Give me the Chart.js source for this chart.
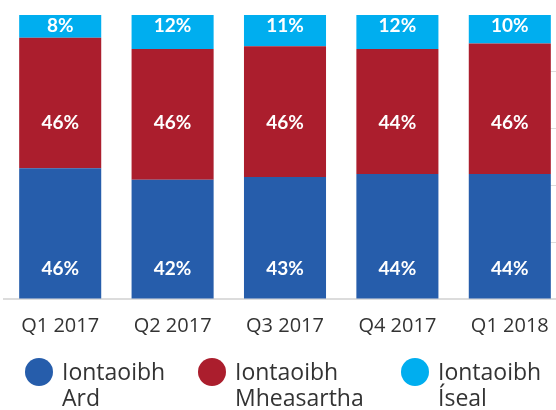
<!DOCTYPE html>
<html>
<head>
<meta charset="utf-8">
<script src="https://cdn.jsdelivr.net/npm/chart.js@4/dist/chart.umd.min.js"></script>
<style>
  body { margin: 0; background: #fff; overflow: hidden; }
  #wrap { position: relative; width: 556px; height: 410px; overflow: hidden; }
  #trust_chart { position: absolute; left: 0; top: 0; }
  #legend { position: absolute; left: 0; top: 358px; width: 556px; font-family: "Open Sans"; font-size: 23px; line-height: 26px; color: #333; }
  .item { position: absolute; top: 0; }
  .dot { position: absolute; top: 0; width: 28px; height: 28px; border-radius: 50%; }
  .txt { position: absolute; white-space: nowrap; }
</style>
</head>
<body>
<div id="wrap">
  <canvas id="trust_chart" width="566" height="410"></canvas>
  <div id="legend"></div>
</div>
<script>
const quarters = ["Q1 2017", "Q2 2017", "Q3 2017", "Q4 2017", "Q1 2018"];
const ard = [46, 42, 43, 44, 44];
const mheasartha = [46, 46, 46, 44, 46];
const iseal = [8, 12, 11, 12, 10];
const seriesNames = [["Iontaoibh", "Ard"], ["Iontaoibh", "Mheasartha"], ["Iontaoibh", "Íseal"]];
const colors = ["#265dab", "#ab1e2d", "#00aeef"];

// writes the % inside each segment
const barLabels = {
    id: "barLabels",
    afterDatasetsDraw(chart, args, opts) {
        let ctx = chart.ctx;
        ctx.save();
        ctx.font = "bold 19px Lato";
        ctx.fillStyle = "#ffffff";
        ctx.textAlign = "center";
        ctx.textBaseline = "middle";
        chart.data.datasets.forEach(function(ds, di) {
            let meta = chart.getDatasetMeta(di);
            let y = chart.scales.y.getPixelForValue(opts.anchors[di]);
            meta.data.forEach(function(bar, i) {
                ctx.fillText(ds.data[i] + "%", bar.x, y);
            });
        });
        ctx.restore();
    }
};

let ctx1 = document.getElementById("trust_chart");
let trust_chart = new Chart(ctx1, {
    type: "bar",
    plugins: [barLabels],
    data: {
        labels: quarters,
        datasets: [
            { label: seriesNames[0].join(" "), data: ard, backgroundColor: colors[0] },
            { label: seriesNames[1].join(" "), data: mheasartha, backgroundColor: colors[1] },
            { label: seriesNames[2].join(" "), data: iseal, backgroundColor: colors[2] }
        ]
    },
    options: {
        responsive: false,
        animation: false,
        layout: { padding: { left: 4, right: 0, top: 15, bottom: 65 } },
        datasets: { bar: { barPercentage: 0.73, categoryPercentage: 1 } },
        scales: {
            x: {
                stacked: true,
                grid: { display: false },
                border: { color: "#dcdcdc", width: 2 },
                ticks: { color: "#333333", padding: 7, font: { family: "Open Sans", size: 20 } }
            },
            y: {
                stacked: true,
                min: 0,
                max: 100,
                ticks: { display: false, stepSize: 20 },
                border: { display: false, dash: [0, 546, 10, 600] },
                grid: {
                    drawTicks: false,
                    color: function(c) { return (c.tick.value == 0 || c.tick.value == 100) ? "rgba(0,0,0,0)" : "#dcdcdc"; }
                }
            }
        },
        plugins: {
            tooltip: { enabled: false },
            legend: { display: false },
            barLabels: { anchors: [10.6, 62, 96] }
        }
    }
});

// legend under the chart, two-line labels
let legendLeft = [25, 198, 401];
let legend = document.getElementById("legend");
seriesNames.forEach(function(name, i) {
    let item = document.createElement("div");
    item.className = "item";
    item.style.left = legendLeft[i] + "px";
    item.innerHTML = '<span class="dot" style="left:0;background:' + colors[i] + '"></span>' +
        '<span class="txt" style="left:37px">' + name[0] + "<br>" + name[1] + "</span>";
    legend.appendChild(item);
});
</script>
</body>
</html>
